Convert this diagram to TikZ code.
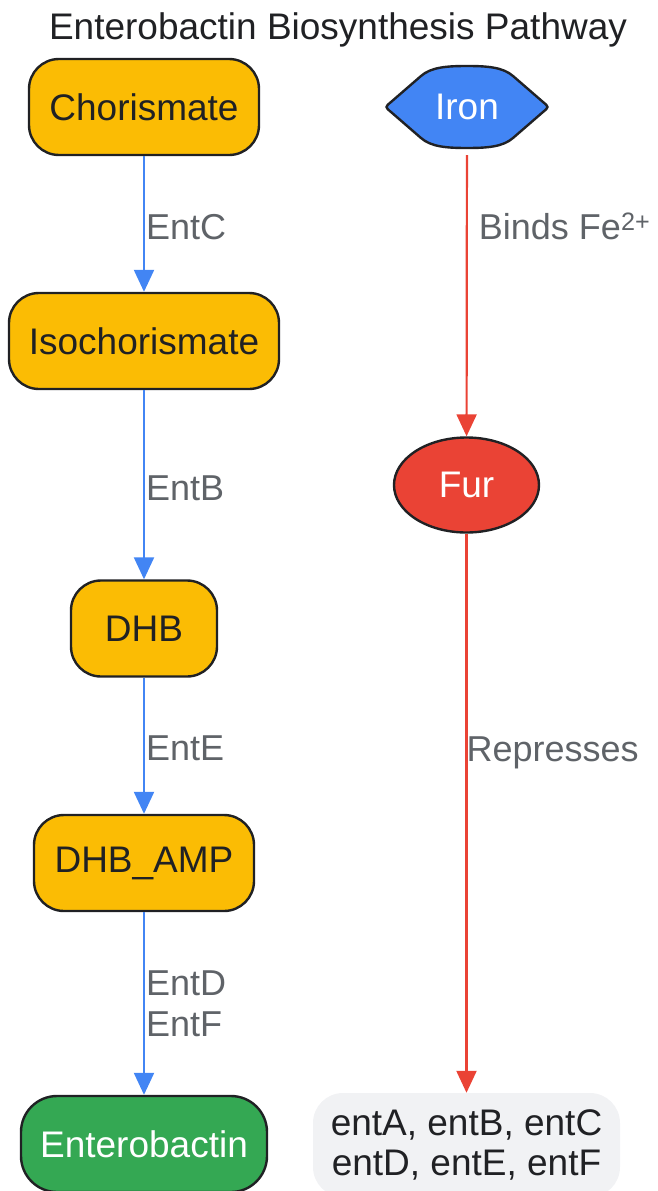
\documentclass[tikz,border=0pt]{standalone}
\usepackage{fontspec}
\setmainfont{Liberation Sans}
\usetikzlibrary{arrows.meta,shapes.geometric}
\definecolor{cOrange}{HTML}{FBBC04}
\definecolor{cBlue}{HTML}{4285F4}
\definecolor{cRed}{HTML}{EA4335}
\definecolor{cGreen}{HTML}{34A853}
\definecolor{cText}{HTML}{202124}
\definecolor{cLbl}{HTML}{5F6368}
\definecolor{cGene}{HTML}{F1F2F4}
\tikzset{
  proc/.style={draw=cText, line width=2.4pt, fill=cOrange, rounded corners=30pt,
    minimum height=96pt, inner sep=0pt, text=cText, font=\fontsize{37}{40}\selectfont},
  prod/.style={proc, fill=cGreen, text=white},
  fur/.style={ellipse, draw=cText, line width=2.4pt, fill=cRed, text=white,
    minimum width=145pt, minimum height=95pt, inner sep=0pt, font=\fontsize{37}{40}\selectfont},
  genes/.style={fill=cGene, rounded corners=30pt, minimum width=307pt, minimum height=104pt,
    inner sep=0pt, text=cText, align=center, font=\fontsize{37}{40}\selectfont},
  ghost/.style={minimum width=162pt, minimum height=96pt, inner sep=0pt, text=white,
    font=\fontsize{37}{40}\selectfont},
  bflow/.style={draw=cBlue, line width=2.2pt, -{Triangle[width=20pt,length=22pt]}},
  rflow/.style={draw=cRed, line width=2.2pt, -{Triangle[width=20pt,length=22pt]}},
  lbl/.style={text=cLbl, inner sep=0pt, anchor=west, align=left, font=\fontsize{36}{41}\selectfont},
}
\begin{document}
\begin{tikzpicture}[x=1pt,y=-1pt]
\useasboundingbox (0,0) rectangle (657,1191);
\node[text=cText, font=\fontsize{37}{40}\selectfont] (title) at (338,30) {Enterobactin Biosynthesis Pathway};
% left column
\node[proc, minimum width=230pt] (chor) at (144,107) {Chorismate};
\node[proc, minimum width=270pt] (iso) at (144,341) {Isochorismate};
\node[proc, minimum width=146pt] (dhb) at (144,628.5) {DHB};
\node[proc, minimum width=220pt] (amp) at (144,863) {DHB\_AMP};
\node[prod, minimum width=246pt, rounded corners=36pt] (ent) at (144,1144) {Enterobactin};
% right column
\filldraw[fill=cBlue, draw=cText, line width=2.4pt]
  (391,112) .. controls (385,107) .. (391,102) -- (421,76)
  .. controls (431,67.3) and (446,66) .. (467,66)
  .. controls (488,66) and (503,67.3) .. (513,76) -- (543,102)
  .. controls (549,107) .. (543,112) -- (513,138)
  .. controls (503,146.7) and (488,148) .. (467,148)
  .. controls (446,148) and (431,146.7) .. (421,138) -- cycle;
\node[ghost] (iron) at (467,107) {Iron};
\node[fur] (fur) at (466.5,485) {Fur};
\node[genes] (genes) at (466.5,1145) {entA, entB, entC\\entD, entE, entF};
% connectors
\draw[bflow] (chor) -- (iso) node[lbl, pos=0.52, xshift=1pt] {EntC};
\draw[bflow] (iso) -- (dhb) node[lbl, pos=0.52, xshift=1pt] {EntB};
\draw[bflow] (dhb) -- (amp) node[lbl, pos=0.515, xshift=1pt] {EntE};
\draw[bflow] (amp) -- (ent) node[lbl, pos=0.5, xshift=1pt] {EntD\\EntF};
\draw[rflow] (iron) -- (fur) node[lbl, pos=0.254, xshift=11pt] {Binds Fe\textsuperscript{2+}};
\draw[rflow] (fur) -- (genes) node[lbl, pos=0.384, xshift=-1pt, yshift=-4pt] {Represses};
\end{tikzpicture}
\end{document}
